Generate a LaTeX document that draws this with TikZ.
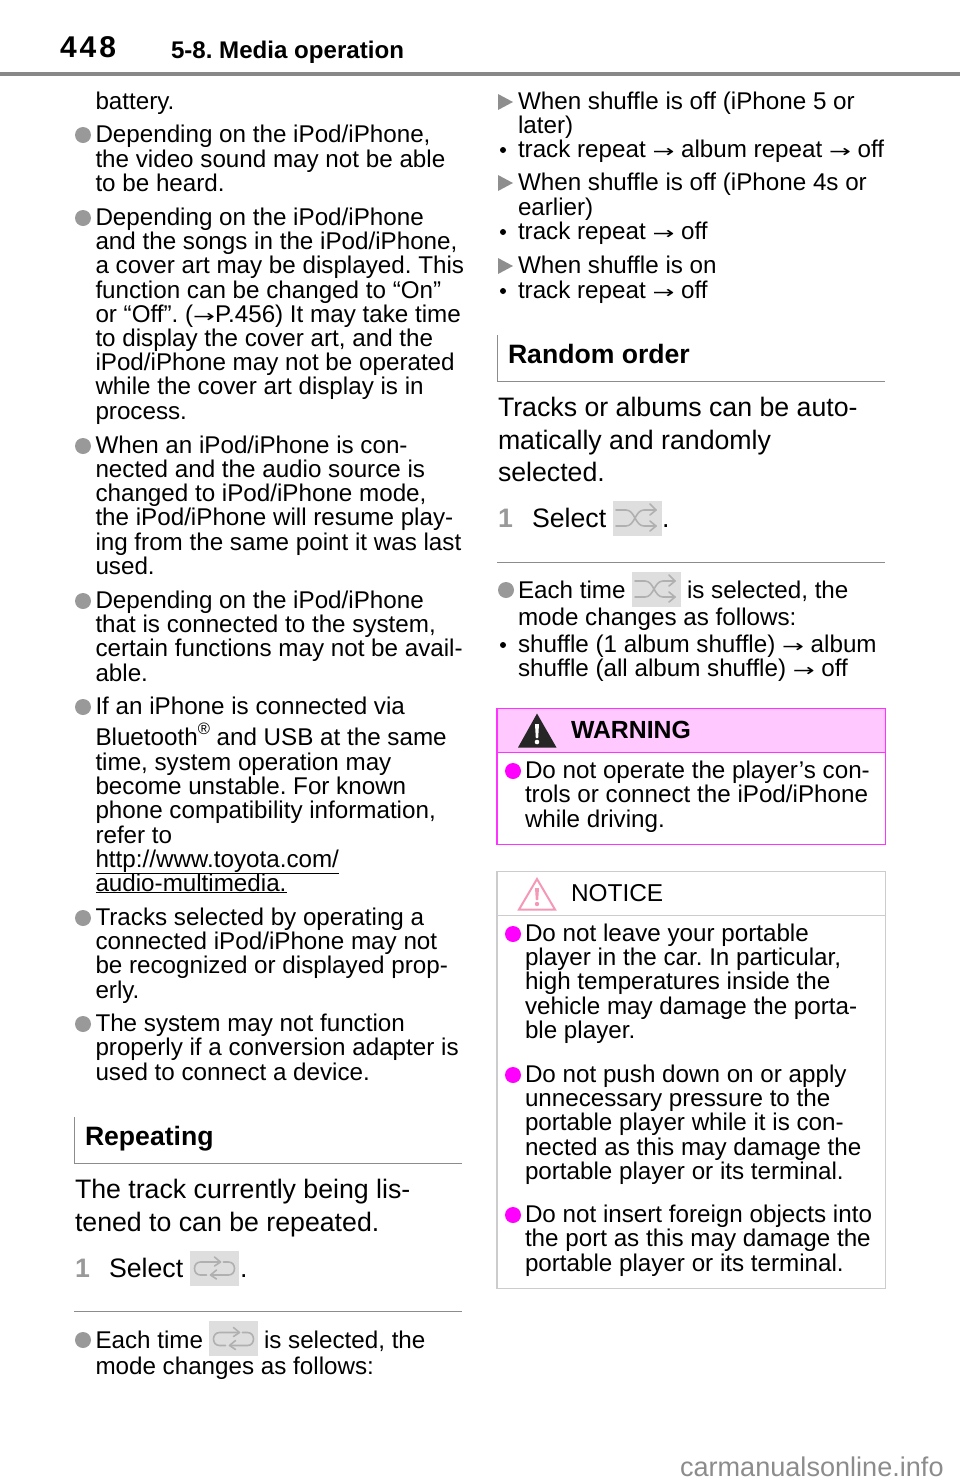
\documentclass[tikz,border=0pt]{standalone}
\usepackage{fontspec}
\setmainfont{Liberation Sans}
\newfontfamily\arrowfont{DejaVu Sans}
\frenchspacing
\definecolor{bulgray}{HTML}{999999}
\definecolor{rulegray}{HTML}{888888}
\definecolor{thinrule}{HTML}{8C8C8C}
\definecolor{iconbg}{HTML}{DEDEDE}
\definecolor{iconfg}{HTML}{B0B0B0}
\definecolor{warnfill}{HTML}{FFC9FF}
\definecolor{warnline}{HTML}{FF33FF}
\definecolor{magbul}{HTML}{FF00FF}
\definecolor{noteline}{HTML}{CCCCCC}
\definecolor{notepink}{HTML}{F598B8}
\definecolor{markgray}{HTML}{8E8E8E}
\newcounter{ln}
\newcommand{\bodyf}{\fontsize{24.2}{30}\selectfont}
\newcommand{\leadf}{\fontsize{26.7}{33}\selectfont}
\newcommand{\headf}{\fontsize{26.6}{33}\bfseries\selectfont}
\newcommand{\arr}{\scalebox{1.08}[0.72]{\arrowfont →}}
\tikzset{
  txt/.style={inner sep=0pt,outer sep=0pt,anchor=base west,text=black,font=\bodyf},
  leadtxt/.style={txt,font=\leadf},
  headtxt/.style={txt,font=\headf},
  stepnum/.style={txt,font=\leadf\bfseries,text=bulgray},
  bul/.style={fill=bulgray,draw=none},
  mbul/.style={fill=magbul,draw=none},
  hair/.style={draw=thinrule,line width=1pt},
  icon/.style={draw=iconfg,line width=1.6pt,line cap=round,line join=round},
}
\newcommand{\T}[3]{\stepcounter{ln}\node[txt] (l\theln) at (#1,#2+8) {#3};}
\newcommand{\Ts}[4]{\stepcounter{ln}\node[#1] (l\theln) at (#2,#3+9) {#4};}
\newcommand{\bull}[2]{\fill[bul] (#1,#2) circle[radius=8];}
\newcommand{\mbull}[2]{\fill[mbul] (#1,#2) circle[radius=8];}
\newcommand{\tri}[2]{\fill[markgray] (#1,#2-8) -- (#1+15,#2) -- (#1,#2+8) -- cycle;}
\newcommand{\dotb}[2]{\fill[black] (#1,#2) circle[radius=3];}
\newcommand{\repicon}[2]{%
  \fill[iconbg] (#1-24.5,#2-17.5) rectangle (#1+24.5,#2+17.5);
  \begin{scope}[shift={(#1,#2)}]
    \draw[icon] (5,-6) -- (-14,-6) .. controls (-22,-6) and (-22,7) .. (-14,7) -- (-8,7);
    \draw[icon] (-3,7) -- (14,7) .. controls (22,7) and (22,-6) .. (14,-6) -- (9,-6);
    \draw[icon] (0,-11) -- (6,-6) -- (0,-2);
    \draw[icon] (2,2) -- (-4,7) -- (2,11);
  \end{scope}}
\newcommand{\shufficon}[2]{%
  \fill[iconbg] (#1-24.5,#2-17.5) rectangle (#1+24.5,#2+17.5);
  \begin{scope}[shift={(#1,#2)}]
    \draw[icon] (-21,-8) -- (-11,-8) .. controls (-2,-8) and (-2,8) .. (7,8) -- (19,8);
    \draw[icon] (-21,8) -- (-11,8) .. controls (-2,8) and (-2,-8) .. (7,-8) -- (19,-8);
    \draw[icon] (13,-14) -- (19,-8) -- (13,-3);
    \draw[icon] (13,3) -- (19,8) -- (13,13);
  \end{scope}}
\begin{document}
\begin{tikzpicture}[x=1pt,y=-1pt]
\useasboundingbox (0,0) rectangle (960,1484);
% header
\stepcounter{ln}\node[txt,font=\fontsize{30}{34}\bfseries\selectfont] (pageno) at (60,57) {4\kern3pt4\kern3pt8};
\stepcounter{ln}\node[txt,font=\fontsize{24.1}{30}\bfseries\selectfont] (title) at (171,58.5) {5-8. Media operation};
\fill[rulegray] (0,71.5) rectangle (960,75.5);
% left column
\T{95.5}{101}{battery.}
\bull{83}{135}
\T{95.5}{134}{Depending on the iPod/iPhone,}
\T{95.5}{159}{the video sound may not be able}
\T{95.5}{183}{to be heard.}
\bull{83}{218}
\T{95.5}{217}{Depending on the iPod/iPhone}
\T{95.5}{241}{and the songs in the iPod/iPhone,}
\T{95.5}{265}{a cover art may be displayed. This}
\T{95.5}{290}{function can be changed to “On”}
\T{95.5}{314}{or “Off”. (\arr P.456) It may take time}
\T{95.5}{338}{to display the cover art, and the}
\T{95.5}{362}{iPod/iPhone may not be operated}
\T{95.5}{386}{while the cover art display is in}
\T{95.5}{411}{process.}
\bull{83}{446}
\T{95.5}{445}{When an iPod/iPhone is con-}
\T{95.5}{469}{nected and the audio source is}
\T{95.5}{493}{changed to iPod/iPhone mode,}
\T{95.5}{517}{the iPod/iPhone will resume play-}
\T{95.5}{542}{ing from the same point it was last}
\T{95.5}{566}{used.}
\bull{83}{601}
\T{95.5}{600}{Depending on the iPod/iPhone}
\T{95.5}{624}{that is connected to the system,}
\T{95.5}{648}{certain functions may not be avail-}
\T{95.5}{673}{able.}
\bull{83}{707}
\T{95.5}{706}{If an iPhone is connected via}
\T{95.5}{737}{Bluetooth\raisebox{0.42em}{\fontsize{16.5}{18}\selectfont ®} and USB at the same}
\T{95.5}{762}{time, system operation may}
\T{95.5}{786}{become unstable. For known}
\T{95.5}{810}{phone compatibility information,}
\T{95.5}{835}{refer to}
\T{95.5}{859}{\underline{http://www.toyota.com/}}
\T{95.5}{883}{\underline{audio-multimedia.}}
\bull{83}{918}
\T{95.5}{917}{Tracks selected by operating a}
\T{95.5}{941}{connected iPod/iPhone may not}
\T{95.5}{965}{be recognized or displayed prop-}
\T{95.5}{990}{erly.}
\bull{83}{1024}
\T{95.5}{1023}{The system may not function}
\T{95.5}{1047}{properly if a conversion adapter is}
\T{95.5}{1072}{used to connect a device.}
% Repeating
\draw[hair] (74.5,1117) -- (74.5,1163.5) -- (462,1163.5);
\Ts{headtxt}{85}{1136}{Repeating}
\Ts{leadtxt}{75}{1189}{The track currently being lis-}
\Ts{leadtxt}{75}{1222}{tened to can be repeated.}
\Ts{stepnum}{75}{1268}{1}
\Ts{leadtxt}{109}{1268}{Select}
\repicon{214.5}{1268}
\Ts{leadtxt}{240}{1268}{.}
\draw[hair] (74,1311.5) -- (462,1311.5);
\bull{83}{1340}
\T{95.5}{1340}{Each time}
\repicon{233.5}{1338.5}
\T{264}{1340}{is selected, the}
\T{95.5}{1366}{mode changes as follows:}
% right column
\tri{498}{102}
\T{518}{101}{When shuffle is off (iPhone 5 or}
\T{518}{125}{later)}
\dotb{503}{150}
\T{518}{149}{track repeat \arr\ album repeat \arr\ off}
\tri{498}{183}
\T{518}{182}{When shuffle is off (iPhone 4s or}
\T{518}{207}{earlier)}
\dotb{503}{232}
\T{518}{231}{track repeat \arr\ off}
\tri{498}{266}
\T{518}{265}{When shuffle is on}
\dotb{503}{291}
\T{518}{290}{track repeat \arr\ off}
% Random order
\draw[hair] (497.5,335) -- (497.5,381.5) -- (885,381.5);
\Ts{headtxt}{508}{354}{Random order}
\Ts{leadtxt}{498}{407}{Tracks or albums can be auto-}
\Ts{leadtxt}{498}{440}{matically and randomly}
\Ts{leadtxt}{498}{472}{selected.}
\Ts{stepnum}{498}{518}{1}
\Ts{leadtxt}{532}{518}{Select}
\shufficon{637}{518}
\Ts{leadtxt}{662}{518}{.}
\draw[hair] (497,562.5) -- (885,562.5);
\bull{506}{590}
\T{518}{590}{Each time}
\shufficon{656}{589}
\T{687}{590}{is selected, the}
\T{518}{617}{mode changes as follows:}
\dotb{503}{645}
\T{518}{644}{shuffle (1 album shuffle) \arr\ album}
\T{518}{668}{shuffle (all album shuffle) \arr\ off}
% warning box
\fill[warnfill] (497,708) rectangle (885.5,752.5);
\draw[warnline,line width=1.2pt] (497,708.5) rectangle (885.5,844.5);
\draw[warnline,line width=1pt] (497,752.5) -- (885.5,752.5);
\fill[black!85] (537,713.5) -- (556.5,747.5) -- (518,747.5) -- cycle;
\fill[white] (535,724) -- (539,724) -- (538.2,738) -- (535.8,738) -- cycle;
\fill[white] (537,742) circle[radius=2.3];
\stepcounter{ln}\node[txt,font=\fontsize{24.8}{30}\bfseries\selectfont] (warn) at (571,738) {WARNING};
\mbull{513}{771}
\T{525}{770}{Do not operate the player’s con-}
\T{525}{794}{trols or connect the iPod/iPhone}
\T{525}{819}{while driving.}
% notice box
\draw[noteline,line width=1.2pt] (497,871.5) rectangle (885.5,1288.5);
\draw[noteline,line width=1pt] (497,915.5) -- (885.5,915.5);
\draw[notepink,line width=2pt,line join=miter] (537,879) -- (555,909.5) -- (519,909.5) -- cycle;
\fill[notepink] (535,888) -- (539,888) -- (538.2,900) -- (535.8,900) -- cycle;
\fill[notepink] (537,904) circle[radius=2.2];
\stepcounter{ln}\node[txt,font=\fontsize{24.4}{30}\selectfont] (notice) at (571,901) {NOTICE};
\mbull{513}{934}
\T{525}{933}{Do not leave your portable}
\T{525}{957}{player in the car. In particular,}
\T{525}{981}{high temperatures inside the}
\T{525}{1006}{vehicle may damage the porta-}
\T{525}{1030}{ble player.}
\mbull{513}{1075}
\T{525}{1074}{Do not push down on or apply}
\T{525}{1098}{unnecessary pressure to the}
\T{525}{1122}{portable player while it is con-}
\T{525}{1147}{nected as this may damage the}
\T{525}{1171}{portable player or its terminal.}
\mbull{513}{1215}
\T{525}{1214}{Do not insert foreign objects into}
\T{525}{1238}{the port as this may damage the}
\T{525}{1263}{portable player or its terminal.}
% watermark
\stepcounter{ln}\node[txt,font=\fontsize{27.1}{30}\selectfont,text=black!45] (mark) at (680,1476) {carmanualsonline.info};
\end{tikzpicture}
\end{document}
